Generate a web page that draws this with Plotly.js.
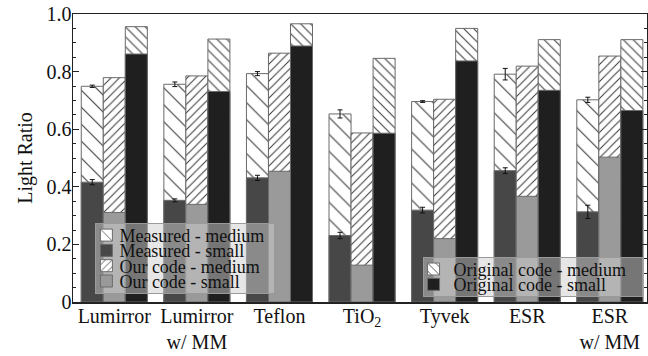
<!DOCTYPE html>
<html>
<head>
<meta charset="utf-8">
<script src="https://cdn.plot.ly/plotly-3.0.1.min.js"></script>
<style>
  html, body { margin: 0; padding: 0; background: #fff; }
  #plot { width: 648px; height: 356px; }
</style>
</head>
<body>
<div id="plot"></div>
<script>
// ---- data ----
const categories = ['Lumirror', 'Lumirror<br>w/ MM', 'Teflon', 'TiO<sub>2</sub>', 'Tyvek', 'ESR', 'ESR<br>w/ MM'];

const measuredMedium    = [0.749, 0.756, 0.793, 0.653, 0.696, 0.791, 0.702];
const measuredMediumErr = [0.004, 0.008, 0.007, 0.014, 0.003, 0.020, 0.009];
const measuredSmall     = [0.416, 0.353, 0.431, 0.231, 0.319, 0.456, 0.313];
const measuredSmallErr  = [0.009, 0.005, 0.009, 0.011, 0.010, 0.010, 0.023];

const ourMedium = [0.779, 0.785, 0.864, 0.587, 0.704, 0.819, 0.854];
const ourSmall  = [0.311, 0.339, 0.454, 0.128, 0.220, 0.367, 0.503];

const origMedium = [0.956, 0.913, 0.966, 0.846, 0.950, 0.911, 0.911];
const origSmall  = [0.861, 0.731, 0.889, 0.586, 0.837, 0.735, 0.665];

const yTickVals = [0, 0.2, 0.4, 0.6, 0.8, 1.0];
const yTickText = ['0', '0.2', '0.4', '0.6', '0.8', '1.0'];

// ---- styling ----
const FONT = 'Liberation Serif';
const W = 0.8 / 3;
const outline = { color: '#6a6a6a', width: 1 };

function medTrace(name, y, offset, pat, legend, err) {
  const t = {
    type: 'bar', name: name, x: categories, y: y,
    width: W, offset: offset, legend: legend,
    marker: {
      color: '#ffffff',
      line: outline,
      pattern: { shape: pat.shape, size: pat.size, solidity: pat.solidity, fgcolor: '#3a3a3a', bgcolor: '#ffffff', fillmode: 'replace' }
    },
    hoverinfo: 'skip'
  };
  if (err) t.error_y = { type: 'data', array: err, visible: true, color: '#111', thickness: 1, width: 2.5 };
  return t;
}
function smallTrace(name, y, offset, color, legend, err) {
  const t = {
    type: 'bar', name: name, x: categories, y: y,
    width: W, offset: offset, legend: legend,
    marker: { color: color, line: outline },
    hoverinfo: 'skip'
  };
  if (err) t.error_y = { type: 'data', array: err, visible: true, color: '#111', thickness: 1, width: 2.5 };
  return t;
}

const traces = [
  medTrace('Measured - medium', measuredMedium, -0.4, { shape: '\\', size: 12, solidity: 0.09 }, 'legend', measuredMediumErr),
  smallTrace('Measured - small', measuredSmall, -0.4, '#474747', 'legend', measuredSmallErr),
  medTrace('Our code - medium', ourMedium, -0.4 + W, { shape: '/', size: 6, solidity: 0.17 }, 'legend'),
  smallTrace('Our code - small', ourSmall, -0.4 + W, '#9a9a9a', 'legend'),
  medTrace('Original code - medium', origMedium, -0.4 + 2 * W, { shape: '\\', size: 7, solidity: 0.15 }, 'legend2'),
  smallTrace('Original code - small', origSmall, -0.4 + 2 * W, '#1f1f1f', 'legend2')
];

const legendBase = {
  bgcolor: 'rgba(205,205,205,0.5)', bordercolor: '#9a9a9a', borderwidth: 1,
  font: { family: FONT, size: 18, color: '#111' },
  traceorder: 'normal', xanchor: 'left', yanchor: 'top'
};

const layout = {
  width: 648, height: 356,
  margin: { l: 73, r: 1, t: 14, b: 54 },
  paper_bgcolor: '#fff', plot_bgcolor: '#fff',
  barmode: 'overlay',
  font: { family: FONT, size: 20, color: '#111' },
  showlegend: true,
  legend: Object.assign({}, legendBase, { x: 0.039, y: 0.2745 }),
  legend2: Object.assign({}, legendBase, { x: 0.609, y: 0.1567 }),
  xaxis: {
    type: 'category', range: [-0.5, 6.45],
    ticks: '', showline: true, linecolor: '#222', linewidth: 1.5, mirror: true,
    tickfont: { family: FONT, size: 20, color: '#111' }, ticklabelstandoff: -5,
    showgrid: false, zeroline: false, fixedrange: true
  },
  xaxis2: {
    type: 'linear', overlaying: 'x', anchor: 'y', side: 'bottom', range: [-0.5, 6.45],
    tickmode: 'linear', tick0: -0.5, dtick: 1, ticks: 'inside', ticklen: 6, tickwidth: 1, tickcolor: '#222',
    minor: { tickmode: 'linear', tick0: -0.5, dtick: 0.2, ticks: 'inside', ticklen: 3, tickwidth: 1, tickcolor: '#222' },
    mirror: 'allticks', showline: false, showticklabels: false, showgrid: false, zeroline: false, fixedrange: true
  },
  yaxis: {
    range: [0, 1.0], tickmode: 'array', tickvals: yTickVals, ticktext: yTickText,
    ticks: 'inside', ticklen: 6, tickwidth: 1, tickcolor: '#222',
    minor: { tickmode: 'linear', tick0: 0, dtick: 0.05, ticks: 'inside', ticklen: 3, tickwidth: 1, tickcolor: '#222' },
    showline: true, linecolor: '#222', linewidth: 1.5, mirror: 'allticks',
    showgrid: false, zeroline: false, fixedrange: true,
    tickfont: { family: FONT, size: 20, color: '#111' }, ticklabelstandoff: -4,
    title: { text: 'Light Ratio', font: { family: FONT, size: 20, color: '#111' }, standoff: 8 }
  }
};

const gd = document.getElementById('plot');

function tightenLegends() {
  const layer = gd.querySelector('.infolayer');
  if (!layer) return;
  const groups = Array.from(layer.children).filter(g => g.querySelector(':scope > rect.bg'));
  groups.forEach(lg => {
    const bg = lg.querySelector(':scope > rect.bg');
    const items = lg.querySelectorAll('g.traces');
    const n = items.length;
    if (!n) return;
    const step = 15.3, pad = 4.5;
    let maxW = 0;
    items.forEach((it, i) => {
      it.setAttribute('transform', 'translate(-9,' + (pad + step * (i + 0.5)) + ')');
      const txt = it.querySelector('text.legendtext');
      if (txt) {
        txt.setAttribute('x', 33);
        try { maxW = Math.max(maxW, txt.getComputedTextLength()); } catch (e) {}
      }
    });
    bg.setAttribute('height', 2 * pad + n * step);
    if (maxW > 0) bg.setAttribute('width', 24 + maxW + 10);
  });
}

Plotly.newPlot(gd, traces, layout, { staticPlot: true, displayModeBar: false }).then(tightenLegends);
</script>
</body>
</html>
